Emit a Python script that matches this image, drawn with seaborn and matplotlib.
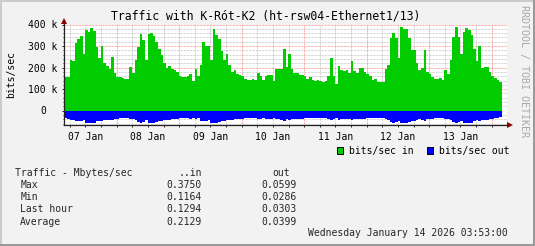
import numpy as np
import pandas as pd
import matplotlib
matplotlib.use("Agg")
import matplotlib.pyplot as plt
import matplotlib.transforms as mtransforms
from matplotlib.patches import Rectangle
from matplotlib.lines import Line2D
import seaborn as sns

W, H = 535, 246

# ---------------- data (kbit/s, 1-hour steps starting Jan 07 03:53) -------------
in_kbps = [
    156, 156, 237, 232, 314, 334, 345, 263, 376, 365, 384, 371, 297, 245, 300, 222, 209, 193, 248, 176,
    158, 155, 150, 147, 147, 204, 176, 235, 294, 358, 329, 237, 358, 362, 345, 320, 285, 258, 222, 200,
    207, 195, 190, 179, 159, 156, 155, 159, 170, 139, 195, 159, 213, 317, 299, 299, 237, 379, 353, 334,
    275, 237, 263, 213, 179, 187, 172, 167, 159, 148, 141, 144, 147, 144, 175, 162, 144, 159, 164, 167,
    136, 195, 193, 195, 286, 201, 263, 195, 175, 175, 164, 164, 159, 148, 155, 144, 136, 144, 136, 133,
    136, 159, 244, 159, 124, 209, 190, 186, 190, 175, 229, 186, 175, 198, 197, 181, 169, 161, 143, 146,
    135, 135, 135, 194, 212, 336, 359, 336, 243, 387, 378, 378, 336, 282, 282, 223, 189, 197, 282, 181,
    169, 155, 146, 146, 150, 143, 189, 170, 235, 344, 387, 344, 263, 367, 382, 375, 351, 285, 232, 300,
    197, 204, 204, 181, 161, 150, 143, 135,
]
out_kbps = [
    35, 38, 42, 42, 48, 50, 49, 45, 57, 58, 59, 57, 50, 46, 47, 44, 42, 41, 43, 39,
    37, 36, 36, 35, 36, 39, 37, 41, 52, 55, 53, 45, 56, 58, 57, 54, 49, 46, 43, 41,
    41, 40, 39, 38, 36, 35, 35, 36, 38, 33, 39, 36, 47, 50, 49, 44, 55, 58, 56, 52,
    48, 47, 45, 43, 41, 40, 39, 38, 37, 36, 35, 36, 36, 35, 39, 37, 35, 37, 38, 38,
    34, 40, 40, 41, 46, 40, 44, 40, 38, 38, 37, 37, 36, 35, 36, 35, 34, 35, 34, 33,
    34, 37, 43, 37, 32, 41, 38, 38, 38, 37, 42, 38, 37, 39, 39, 37, 36, 35, 34, 34,
    33, 33, 33, 38, 41, 52, 55, 53, 46, 58, 58, 58, 54, 50, 49, 44, 40, 41, 48, 39,
    38, 37, 36, 36, 36, 35, 39, 37, 44, 53, 58, 54, 48, 57, 59, 58, 55, 49, 45, 50,
    41, 41, 41, 39, 37, 35, 34, 31,
]
day_labels = ["07 Jan", "08 Jan", "09 Jan", "10 Jan", "11 Jan", "12 Jan", "13 Jan"]
y_ticks = [0, 100, 200, 300, 400]
y_tick_labels = ["0", "100 k", "200 k", "300 k", "400 k"]
legend_labels = ["bits/sec in", "bits/sec out"]
series_colors = ["#00CC00", "#0000FF"]
stats_header = ["Traffic - Mbytes/sec", "..in", "out"]
stats_rows = ["Max", "Min", "Last hour", "Average"]
stats_in = ["0.3750", "0.1164", "0.1294", "0.2129"]
stats_out = ["0.0599", "0.0286", "0.0303", "0.0399"]
title = "Traffic with K-Rót-K2 (ht-rsw04-Ethernet1/13)"
timestamp = "Wednesday January 14 2026 03:53:00"
first_midnight = 20 + 7 / 60.0   # hours from series start to Jan 08 00:00

# ---------------- figure ----------------
sns.set_theme(style="white")
plt.rcParams["font.family"] = ["DejaVu Sans Mono", "DejaVu Sans"]
BG = "#F2F2F2"
fig = plt.figure(figsize=(W / 100, H / 100), dpi=100, facecolor=BG)

def fx(px):
    return px / W

def fy(py):
    return 1 - py / H

ax_l, ax_r, ax_t, ax_b = 64.3, 507.0, 24.5, 125.0
ax = fig.add_axes([fx(ax_l), fy(ax_b), (ax_r - ax_l) / W, (ax_b - ax_t) / H])
ax.set_facecolor("white")

n = len(in_kbps)
df = pd.DataFrame({
    "hour": np.arange(n) + 0.5,
    "in": np.asarray(in_kbps, dtype=float),
    "out": -np.asarray(out_kbps, dtype=float),
})
sns.histplot(data=df, x="hour", weights="in", binwidth=1, binrange=(0, n), element="step",
             fill=True, color=series_colors[0], alpha=1, linewidth=0, ax=ax, zorder=2)
sns.histplot(data=df, x="hour", weights="out", binwidth=1, binrange=(0, n), element="step",
             fill=True, color=series_colors[1], alpha=1, linewidth=0, ax=ax, zorder=2)

xmax = (ax_r - ax_l) / 2.604
ax.set_xlim(0, xmax)
ax.set_ylim(-66.3, 400)
ax.set_xlabel("")
ax.set_ylabel("")

# grid
dots = (0, (0.72, 0.72))
minor_x = np.arange(first_midnight - 18, xmax, 6)
for xv in minor_x:
    k = round((xv - first_midnight) / 6)
    if k % 4 == 0:
        ax.axvline(xv, color="#FF0000", alpha=0.45, lw=0.72, ls=dots, zorder=1)
    else:
        ax.axvline(xv, color="#808080", alpha=0.45, lw=0.72, ls=dots, zorder=1)
for yv in np.arange(-60, 401, 20):
    if yv == 0:
        continue
    if yv % 100 == 0:
        ax.axhline(yv, color="#FF0000", alpha=0.45, lw=0.72, ls=dots, zorder=1)
    else:
        ax.axhline(yv, color="#808080", alpha=0.45, lw=0.72, ls=dots, zorder=1)

# spines / axes
for s in ["top", "right"]:
    ax.spines[s].set_visible(False)
for s in ["left", "bottom"]:
    ax.spines[s].set_color("#222222")
    ax.spines[s].set_linewidth(0.9)
    ax.spines[s].set_zorder(3)

noon_x = [first_midnight - 12 + 24 * k for k in range(len(day_labels))]
ax.set_xticks(noon_x)
ax.set_xticklabels(day_labels)
ax.set_xticks(minor_x, minor=True)
ax.set_yticks(y_ticks)
ax.set_yticklabels([lab if v != 0 else "" for v, lab in zip(y_ticks, y_tick_labels)])
ax.set_yticks(np.arange(-60, 401, 20), minor=True)
ax.tick_params(axis="x", which="both", bottom=True, direction="out", length=1.6,
               width=0.7, color="#222222", labelsize=7, pad=3.2, labelcolor="black")
ax.tick_params(axis="y", which="major", left=True, direction="out", length=1.6,
               width=0.7, color="#222222", labelsize=7, pad=3.6, labelcolor="black")
ax.tick_params(axis="y", which="minor", left=True, direction="out", length=0.8,
               width=0.6, color="#222222")
ytr = mtransforms.blended_transform_factory(ax.transAxes, ax.transData)
ax.text((45.8 - ax_l) / (ax_r - ax_l), 0, y_tick_labels[0], transform=ytr,
        ha="right", va="center", fontsize=7, color="black")

# axis extensions with arrows
axw = ax_r - ax_l
axh = ax_b - ax_t
ax.add_line(Line2D([1, (510 - ax_l) / axw], [0, 0], transform=ax.transAxes,
                   color="#222222", lw=0.9, clip_on=False, zorder=3))
ax.add_line(Line2D([0, 0], [1, 1 + 4.5 / axh], transform=ax.transAxes,
                   color="#222222", lw=0.9, clip_on=False, zorder=3))
ax.plot([(509.6 - ax_l) / axw], [0], marker=">", ms=4.2, color="#8B0000",
        transform=ax.transAxes, clip_on=False, zorder=4, mew=0)
ax.plot([0], [1 + 4.0 / axh], marker="^", ms=4.2, color="#8B0000",
        transform=ax.transAxes, clip_on=False, zorder=4, mew=0)

# titles / labels
fig.text(fx(266), fy(16), title, ha="center", va="center", fontsize=8.3, color="black")
fig.text(fx(11), fy(75), "bits/sec", rotation=90, ha="center", va="center",
         fontsize=7, color="black")
fig.text(fx(523.5), fy(71), "RRDTOOL / TOBI OETIKER", rotation=270, ha="center",
         va="center", fontsize=7.2, color="#A8A8A8")

# legend
for (sx, tx), lab, col in zip([(336.7, 349), (426.7, 439)], legend_labels, series_colors):
    fig.patches.append(Rectangle((fx(sx), fy(154)), 6.6 / W, 6.6 / H, transform=fig.transFigure,
                                 facecolor=col, edgecolor="black", lw=0.7))
    fig.text(fx(tx), fy(150.7), lab, ha="left", va="center", fontsize=7, color="black")

# stats table
fig.text(fx(15), fy(173.3), stats_header[0], ha="left", va="center", fontsize=7)
fig.text(fx(202), fy(173.3), stats_header[1], ha="right", va="center", fontsize=7)
fig.text(fx(272.7), fy(173.3), stats_header[2], ha="left", va="center", fontsize=7)
for k, (rn, vi, vo) in enumerate(zip(stats_rows, stats_in, stats_out)):
    yy = 185.1 + 12.17 * k
    fig.text(fx(20.3), fy(yy), rn, ha="left", va="center", fontsize=7)
    fig.text(fx(201.7), fy(yy), vi, ha="right", va="center", fontsize=7)
    fig.text(fx(296.7), fy(yy), vo, ha="right", va="center", fontsize=7)
fig.text(fx(508), fy(233.3), timestamp, ha="right", va="center", fontsize=7)

# 3D frame
fig.add_artist(Line2D([0, 1], [1 - 1 / H, 1 - 1 / H], transform=fig.transFigure, color="#CBCBCB", lw=1.44))
fig.add_artist(Line2D([1 / W, 1 / W], [0, 1], transform=fig.transFigure, color="#CBCBCB", lw=1.44))
fig.add_artist(Line2D([0, 1], [1 / H, 1 / H], transform=fig.transFigure, color="#999999", lw=1.44))
fig.add_artist(Line2D([1 - 1 / W, 1 - 1 / W], [0, 1], transform=fig.transFigure, color="#999999", lw=1.44))

fig.savefig("out.png", dpi=100, facecolor=BG)
